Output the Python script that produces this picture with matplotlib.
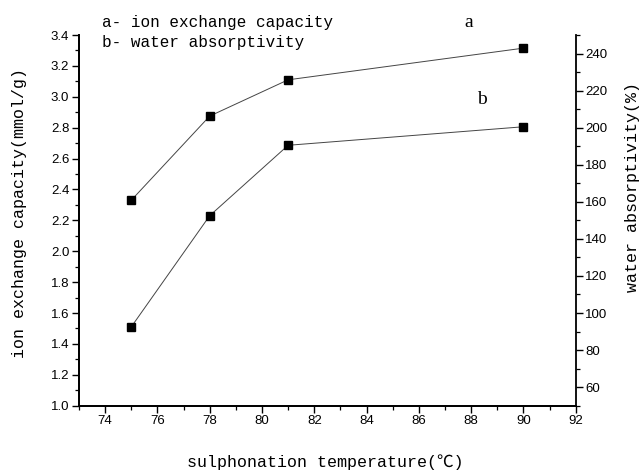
import matplotlib
matplotlib.use("Agg")
import matplotlib.pyplot as plt
from matplotlib.ticker import MultipleLocator

# sulphonation temperature series
temperature = [75, 78, 81, 90]
ion_capacity = [2.33, 2.875, 3.11, 3.315]      # mmol/g, curve a
water_absorb = [92.5, 152.5, 190.5, 200.5]     # %, curve b

mono = ["Liberation Mono", "Noto Sans CJK SC"]
plt.rcParams["font.family"] = ["Liberation Sans", "DejaVu Sans"]

W, H = 642, 472
fig = plt.figure(figsize=(W / 100, H / 100), dpi=100)
ax = fig.add_axes([0.123, 0.1405, 0.7737, 0.7853])
ax2 = ax.twinx()

ax.plot(temperature, ion_capacity, color="#444444", lw=0.7, marker="s",
        ms=5.2, mfc="black", mec="black", zorder=3)
ax2.plot(temperature, water_absorb, color="#444444", lw=0.7, marker="s",
         ms=5.2, mfc="black", mec="black", zorder=3)

ax.set_xlim(73, 92)
ax.set_ylim(1.0, 3.4)
ax2.set_ylim(50, 250)

ax.xaxis.set_major_locator(MultipleLocator(2))
ax.xaxis.set_minor_locator(MultipleLocator(1))
ax.yaxis.set_major_locator(MultipleLocator(0.2))
ax.yaxis.set_minor_locator(MultipleLocator(0.1))
ax.yaxis.set_major_formatter(plt.FormatStrFormatter("%.1f"))
ax2.yaxis.set_minor_locator(MultipleLocator(10))
ax2.set_yticks([60, 80, 100, 120, 140, 160, 180, 200, 220, 240])

for a in (ax, ax2):
    a.spines["top"].set_visible(False)
    for s in a.spines.values():
        s.set_linewidth(1.3)
    a.tick_params(which="major", direction="out", length=5, width=1.0,
                  labelsize=9.5, pad=2)
    a.tick_params(which="minor", direction="out", length=3, width=0.9)
ax.spines["right"].set_visible(False)

# axis titles placed in figure pixels
fig.text(325 / W, 1 - 462 / H, "sulphonation temperature(℃)", family=mono,
         fontsize=12, ha="center", va="center")
fig.text(20 / W, 1 - 213 / H, "ion exchange capacity(mmol/g)", family=mono,
         fontsize=12, ha="center", va="center", rotation=90)
fig.text(632 / W, 1 - 187 / H, "water absorptivity(%)", family=mono,
         fontsize=12, ha="center", va="center", rotation=90)

# legend-style notes and curve tags
fig.text(102 / W, 1 - 22 / H, "a- ion exchange capacity", family=mono,
         fontsize=11.5, ha="left", va="center")
fig.text(102 / W, 1 - 42 / H, "b- water absorptivity", family=mono,
         fontsize=11.5, ha="left", va="center")
ax.text(87.9, 3.48, "a", family="Liberation Serif", fontsize=14,
        ha="center", va="center", clip_on=False)
ax.text(88.4, 2.98, "b", family="Liberation Serif", fontsize=14,
        ha="center", va="center")

fig.savefig("out.png", dpi=100)
